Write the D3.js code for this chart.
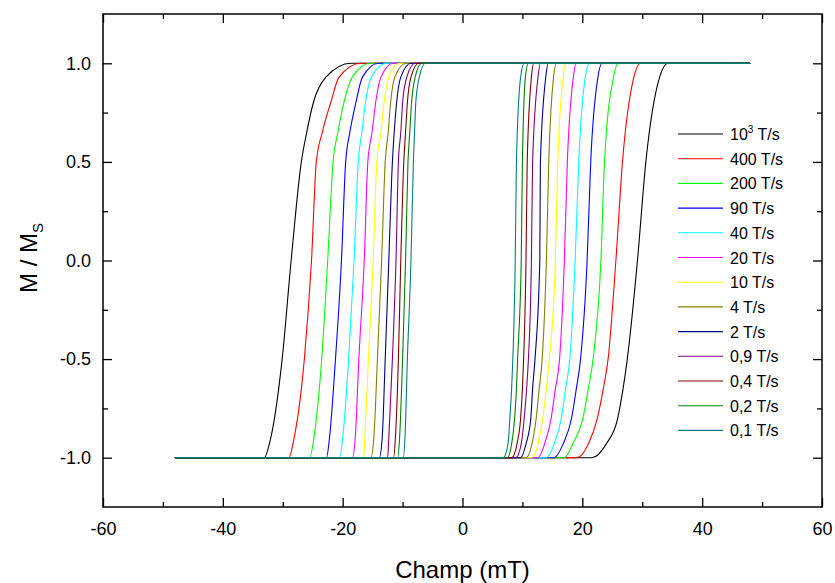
<!DOCTYPE html>
<html><head><meta charset="utf-8">
<script src="https://cdn.jsdelivr.net/npm/d3@7"></script>
<style>body{margin:0;background:#fff}svg{display:block}text{font-family:"Liberation Sans",Arial,sans-serif;fill:#000}</style>
</head><body><svg id="c" width="835" height="583"></svg>
<script>
// ---- data ----
const seriesLabels = ["10{3} T/s","400 T/s","200 T/s","90 T/s","40 T/s","20 T/s","10 T/s","4 T/s","2 T/s","0,9 T/s","0,4 T/s","0,2 T/s","0,1 T/s"];
const seriesColors = ["#000000","#FF0000","#00FF00","#0000FF","#00FFFF","#FF00FF","#FFFF00","#808000","#000080","#800080","#800000","#008000","#008080"];
const fieldRange = [-48, 48];
// descending branch (coming from positive saturation): M levels and fields (mT) per series
const downM = [-1, -0.9, -0.5, 0, 0.5, 0.65, 0.8, 0.93, 1];
const downFields = [
  [-33.1,-32.0,-30.1,-28.6,-26.9,-26.0,-24.9,-22.8,-18.6],
  [-29.0,-28.1,-26.4,-25.2,-24.4,-23.4,-22.0,-20.6,-17.0],
  [-25.5,-24.8,-23.5,-22.5,-21.6,-20.8,-19.8,-18.4,-15.4],
  [-22.7,-22.2,-21.2,-20.2,-19.5,-18.8,-17.8,-16.7,-14.0],
  [-20.5,-20.0,-19.0,-18.1,-17.4,-16.8,-16.2,-15.2,-12.7],
  [-18.4,-17.9,-17.3,-16.4,-15.8,-15.1,-14.5,-13.6,-11.6],
  [-16.5,-16.3,-15.7,-14.9,-14.3,-13.6,-13.1,-12.3,-10.5],
  [-15.3,-14.8,-14.2,-13.5,-12.9,-12.4,-12.0,-11.3,-9.4],
  [-13.9,-13.4,-12.9,-12.3,-11.7,-11.4,-11.0,-10.3,-8.6],
  [-12.5,-12.3,-11.7,-11.1,-10.7,-10.3,-10.0,-9.3,-7.9],
  [-11.5,-11.2,-10.7,-10.3,-9.8,-9.5,-9.2,-8.6,-7.3],
  [-10.8,-10.5,-10.0,-9.5,-9.1,-8.8,-8.5,-7.9,-6.8],
  [-9.9,-9.6,-9.2,-8.6,-8.2,-8.0,-7.8,-7.2,-6.2]
];
// ascending branch (coming from negative saturation)
const upM = [-1, -0.93, -0.8, -0.65, -0.5, 0, 0.5, 0.93, 1];
const upFields = [
  [21.6,24.0,25.9,26.8,27.5,29.2,30.6,32.9,34.3],
  [19.1,21.0,22.5,23.5,24.3,25.6,26.7,28.6,29.7],
  [17.0,18.4,20.1,21.0,21.8,23.1,23.7,25.2,26.0],
  [15.3,16.8,18.2,19.0,19.7,20.8,21.4,22.6,23.3],
  [14.0,15.3,16.5,17.2,17.9,18.8,19.4,20.5,21.2],
  [12.6,13.7,14.8,15.5,16.2,17.0,17.5,18.5,19.0],
  [11.5,12.6,13.4,14.0,14.5,15.5,15.9,16.8,17.2],
  [10.6,11.6,12.3,12.8,13.3,14.0,14.4,15.2,15.7],
  [9.7,10.6,11.4,11.7,12.1,12.9,13.0,13.9,14.3],
  [8.9,9.8,10.3,10.7,11.0,11.5,11.7,12.6,13.0],
  [8.2,9.1,9.7,10.0,10.2,10.6,10.8,11.5,11.9],
  [7.5,8.2,8.7,9.0,9.2,9.8,10.0,10.5,11.0],
  [6.8,7.6,7.9,8.2,8.4,8.8,9.0,9.7,10.3]
];
const xMajor = [-60,-40,-20,0,20,40,60];
const xMinor = [-50,-30,-10,10,30,50];
const yMajor = [-1,-0.5,0,0.5,1];
const yMinor = [-0.75,-0.25,0.25,0.75];

// ---- drawing ----
const svg = d3.select("#c");
const L=103, R=822, T=14, B=507;
const x = d3.scaleLinear().domain([-60,60]).range([L,R]);
const y = d3.scaleLinear().domain([-1.25,1.25]).range([B,T]);

const line = d3.line().x(d=>x(d[0])).y(d=>y(d[1])).curve(d3.curveMonotoneX);
const g = svg.append("g");
seriesColors.forEach((c,i)=>{
  const down = [[fieldRange[0],-1]].concat(downFields[i].map((f,k)=>[f,downM[k]])).concat([[fieldRange[1],1]]);
  const up = [[fieldRange[0],-1]].concat(upFields[i].map((f,k)=>[f,upM[k]])).concat([[fieldRange[1],1]]);
  [down,up].forEach(p=>g.append("path").attr("d",line(p)).attr("fill","none").attr("stroke",c).attr("stroke-width",1.1));
});

function styleAxis(sel){
  sel.select(".domain").remove();
  sel.selectAll("line").attr("stroke","#000").attr("stroke-width",1.3);
  sel.selectAll("text").style("font-size","18px").attr("font-family","Liberation Sans, Arial, sans-serif");
}
// bottom
svg.append("g").attr("transform",`translate(0,${B})`)
  .call(d3.axisBottom(x).tickValues(xMajor).tickSize(-9).tickPadding(15).tickFormat(d=>String(d))).call(styleAxis);
svg.append("g").attr("transform",`translate(0,${B})`)
  .call(d3.axisBottom(x).tickValues(xMinor).tickSize(-5).tickFormat("")).call(styleAxis);
// top
svg.append("g").attr("transform",`translate(0,${T})`)
  .call(d3.axisTop(x).tickValues(xMajor).tickSize(-9).tickFormat("")).call(styleAxis);
svg.append("g").attr("transform",`translate(0,${T})`)
  .call(d3.axisTop(x).tickValues(xMinor).tickSize(-5).tickFormat("")).call(styleAxis);
// left
svg.append("g").attr("transform",`translate(${L},0)`)
  .call(d3.axisLeft(y).tickValues(yMajor).tickSize(-9).tickPadding(12).tickFormat(d=>d.toFixed(1))).call(styleAxis);
svg.append("g").attr("transform",`translate(${L},0)`)
  .call(d3.axisLeft(y).tickValues(yMinor).tickSize(-5).tickFormat("")).call(styleAxis);
// right
svg.append("g").attr("transform",`translate(${R},0)`)
  .call(d3.axisRight(y).tickValues(yMajor).tickSize(-9).tickFormat("")).call(styleAxis);
svg.append("g").attr("transform",`translate(${R},0)`)
  .call(d3.axisRight(y).tickValues(yMinor).tickSize(-5).tickFormat("")).call(styleAxis);

svg.append("rect").attr("x",L).attr("y",T).attr("width",R-L).attr("height",B-T)
  .attr("fill","none").attr("stroke","#000").attr("stroke-width",1.5);

// axis titles
svg.append("text").attr("x",(L+R)/2).attr("y",578).attr("text-anchor","middle").style("font-size","24px").text("Champ (mT)");
const yt = svg.append("text").attr("transform","translate(37,258) rotate(-90)").attr("text-anchor","middle").style("font-size","24px");
yt.append("tspan").text("M / M");
yt.append("tspan").attr("dy",6).style("font-size","15px").text("S");

// legend
const lg = svg.append("g");
seriesLabels.forEach((lab,i)=>{
  const yy = 134 + i*24.7;
  lg.append("line").attr("x1",678).attr("x2",723).attr("y1",yy).attr("y2",yy).attr("stroke",seriesColors[i]).attr("stroke-width",1.1);
  const t = lg.append("text").attr("x",730).attr("y",yy+6).style("font-size","16px");
  const m = lab.match(/^(.*)\{(.*)\}(.*)$/);
  if(m){
    t.append("tspan").text(m[1]);
    t.append("tspan").attr("dy",-7).style("font-size","10px").text(m[2]);
    t.append("tspan").attr("dy",7).text(m[3]);
  } else t.text(lab);
});
</script></body></html>
